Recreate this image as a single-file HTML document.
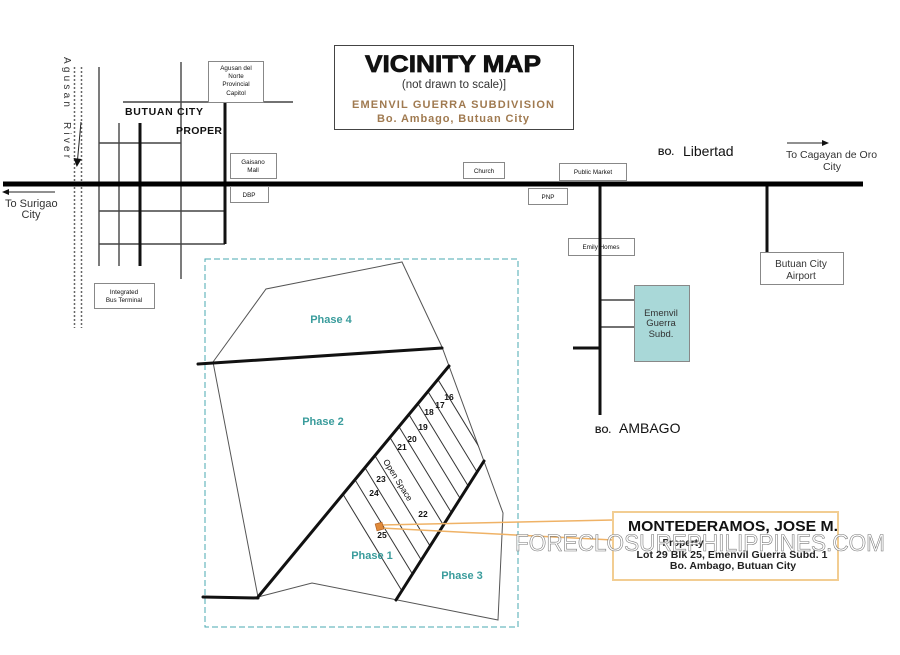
<!DOCTYPE html>
<html><head><meta charset="utf-8"><style>
html,body{margin:0;padding:0;background:#fff;width:900px;height:655px;overflow:hidden;}
svg{display:block;position:absolute;left:0;top:0;font-family:"Liberation Sans",Arial,sans-serif;}
</style></head><body>
<svg width="900" height="655" viewBox="0 0 900 655" xmlns="http://www.w3.org/2000/svg" overflow="hidden">
<defs>
<clipPath id="lots"><polygon points="258,597 449,366 484,461 396,600"/></clipPath>
</defs>
<rect width="900" height="655" fill="#fff"/>

<!-- Title box -->
<rect x="334.5" y="45.5" width="239" height="84" fill="#fff" stroke="#444" stroke-width="1"/>
<text x="453" y="72" font-size="24" font-weight="bold" text-anchor="middle" fill="#111" stroke="#111" stroke-width="0.8" textLength="176" lengthAdjust="spacingAndGlyphs">VICINITY MAP</text>
<text x="454" y="88" font-size="11.5" text-anchor="middle" fill="#333">(not drawn to scale)]</text>
<text x="453" y="108" font-size="11" font-weight="bold" text-anchor="middle" fill="#a07a50" textLength="202" lengthAdjust="spacing">EMENVIL GUERRA SUBDIVISION</text>
<text x="453" y="122" font-size="11" font-weight="bold" text-anchor="middle" fill="#a07a50" textLength="152" lengthAdjust="spacing">Bo. Ambago, Butuan City</text>

<!-- Agusan river -->
<line x1="74.5" y1="67" x2="74.5" y2="328" stroke="#666" stroke-width="1.5" stroke-dasharray="2,2"/>
<line x1="81.5" y1="67" x2="81.5" y2="328" stroke="#666" stroke-width="1.5" stroke-dasharray="2,2"/>
<text transform="translate(64,57) rotate(90)" font-size="10" fill="#333" letter-spacing="3.2">Agusan</text>
<text transform="translate(64,122) rotate(90)" font-size="10" fill="#333" letter-spacing="3.2">River</text>
<line x1="81" y1="122" x2="77.5" y2="160" stroke="#222" stroke-width="1"/>
<polygon points="73.5,158 81.5,159 76.8,167" fill="#111"/>

<!-- City grid -->
<g stroke="#444" stroke-width="1.4" fill="none">
<line x1="99" y1="67" x2="99" y2="266"/>
<line x1="119" y1="123" x2="119" y2="266"/>
<line x1="181" y1="62" x2="181" y2="279"/>
<line x1="99" y1="143" x2="181" y2="143"/>
<line x1="99" y1="211" x2="225" y2="211"/>
<line x1="99" y1="244" x2="225" y2="244"/>
<line x1="123" y1="102" x2="293" y2="102"/>
<line x1="600" y1="300" x2="634" y2="300"/>
<line x1="600" y1="327" x2="634" y2="327"/>
</g>
<g stroke="#111" stroke-width="3" fill="none">
<line x1="140" y1="123" x2="140" y2="266"/>
<line x1="225" y1="102" x2="225" y2="244"/>
<line x1="600" y1="184" x2="600" y2="415"/>
<line x1="767" y1="184" x2="767" y2="252"/>
<line x1="573" y1="348" x2="600" y2="348"/>
</g>
<!-- Main road -->
<line x1="3" y1="184" x2="863" y2="184" stroke="#000" stroke-width="5"/>

<text x="125" y="115" font-size="10.5" font-weight="bold" fill="#111" textLength="78" lengthAdjust="spacing">BUTUAN CITY</text>
<text x="176" y="134" font-size="10.5" font-weight="bold" fill="#111" textLength="46" lengthAdjust="spacing">PROPER</text>

<!-- To Surigao -->
<line x1="6" y1="192" x2="55" y2="192" stroke="#222" stroke-width="1"/>
<polygon points="2,192 9,189 9,195" fill="#111"/>
<text x="5" y="207" font-size="11" fill="#333">To Surigao</text>
<text x="31" y="218" font-size="11" fill="#333" text-anchor="middle">City</text>

<!-- To Cagayan -->
<line x1="787" y1="143" x2="823" y2="143" stroke="#222" stroke-width="1"/>
<polygon points="829,143 822,140 822,146" fill="#111"/>
<text x="786" y="158" font-size="10.5" fill="#333">To  Cagayan de Oro</text>
<text x="832" y="170" font-size="10.5" fill="#333" text-anchor="middle">City</text>

<text x="658" y="155" font-size="9" font-weight="bold" fill="#222">BO.</text>
<text x="683" y="156" font-size="14" fill="#111">Libertad</text>
<text x="595" y="433" font-size="9" font-weight="bold" fill="#222">BO.</text>
<text x="619" y="433" font-size="14" fill="#111">AMBAGO</text>

<!-- small boxes -->
<g fill="#fff" stroke="#888" stroke-width="1">
<rect x="208.5" y="61.5" width="55" height="41"/>
<rect x="230.5" y="153.5" width="46" height="25"/>
<rect x="230.5" y="186.5" width="38" height="16"/>
<rect x="94.5" y="283.5" width="60" height="25"/>
<rect x="463.5" y="162.5" width="41" height="16"/>
<rect x="559.5" y="163.5" width="67" height="17"/>
<rect x="528.5" y="188.5" width="39" height="16"/>
<rect x="568.5" y="238.5" width="66" height="17"/>
<rect x="760.5" y="252.5" width="83" height="32"/>
</g>
<rect x="634.5" y="285.5" width="55" height="76" fill="#a9d8d8" stroke="#888" stroke-width="1"/>
<line x1="600" y1="238" x2="600" y2="256" stroke="#111" stroke-width="3"/>

<g font-size="6.3" fill="#111" text-anchor="middle">
<text x="236" y="70">Agusan del</text>
<text x="236" y="78">Norte</text>
<text x="236" y="86">Provincial</text>
<text x="236" y="95">Capitol</text>
<text x="253" y="164">Gaisano</text>
<text x="253" y="172">Mall</text>
<text x="249" y="197">DBP</text>
<text x="124" y="294">Integrated</text>
<text x="124" y="302">Bus Terminal</text>
<text x="484" y="173">Church</text>
<text x="593" y="174">Public Market</text>
<text x="548" y="199">PNP</text>
<text x="601" y="249">Emily Homes</text>
</g>
<g font-size="10" fill="#333" text-anchor="middle">
<text x="801" y="267">Butuan City</text>
<text x="801" y="279">Airport</text>
</g>
<g font-size="9.5" fill="#333" text-anchor="middle">
<text x="661" y="316">Emenvil</text>
<text x="661" y="326">Guerra</text>
<text x="661" y="337">Subd.</text>
</g>

<!-- Site dashed box -->
<rect x="205" y="259" width="313" height="368" fill="none" stroke="#4aa8b0" stroke-width="1" stroke-dasharray="6,3"/>

<!-- Site plan -->
<polyline points="213,362 266,289 402,262 442,347 503,513 498,620 312,583 258,597 213,362" fill="none" stroke="#555" stroke-width="1"/>
<g clip-path="url(#lots)" stroke="#333" stroke-width="1">
<line x1="343" y1="494.3" x2="422.3" y2="624.3"/>
<line x1="355" y1="479.8" x2="434.3" y2="609.8"/>
<line x1="365" y1="467.7" x2="444.3" y2="597.7"/>
<line x1="375" y1="455.7" x2="454.3" y2="585.7"/>
<line x1="390" y1="437.5" x2="469.3" y2="567.5"/>
<line x1="399" y1="426.7" x2="478.3" y2="556.7"/>
<line x1="409" y1="414.6" x2="488.3" y2="544.6"/>
<line x1="418" y1="403.7" x2="497.3" y2="533.7"/>
<line x1="428" y1="391.6" x2="507.3" y2="521.6"/>
<line x1="438" y1="379.6" x2="517.3" y2="509.6"/>
</g>
<g stroke="#111" stroke-width="3" fill="none" stroke-linecap="round">
<line x1="198" y1="364" x2="442" y2="348"/>
<line x1="203" y1="597" x2="258" y2="598"/>
<line x1="258" y1="597" x2="449" y2="366"/>
<line x1="396" y1="600" x2="484" y2="461"/>
</g>

<g font-size="11" font-weight="bold" fill="#3a9c9c" text-anchor="middle">
<text x="331" y="323">Phase 4</text>
<text x="323" y="425">Phase 2</text>
<text x="372" y="559">Phase 1</text>
<text x="462" y="579">Phase 3</text>
</g>
<g font-size="8.5" font-weight="bold" fill="#111" text-anchor="middle">
<text x="449" y="400">16</text>
<text x="440" y="408">17</text>
<text x="429" y="415">18</text>
<text x="423" y="430">19</text>
<text x="412" y="442">20</text>
<text x="402" y="450">21</text>
<text x="381" y="482">23</text>
<text x="374" y="496">24</text>
<text x="423" y="517">22</text>
<text x="382" y="538">25</text>
</g>
<text transform="translate(398,480) rotate(58)" font-size="8.5" fill="#111" text-anchor="middle" dy="3">Open Space</text>

<!-- callout -->
<line x1="381" y1="525" x2="613" y2="520" stroke="#efb266" stroke-width="1.5"/>
<line x1="381" y1="528" x2="613" y2="540" stroke="#efb266" stroke-width="1.5"/>
<rect x="376" y="523" width="7" height="7" fill="#e08a3a" stroke="#b8682a" stroke-width="0.8" transform="rotate(-15 379.5 526.5)"/>
<rect x="613" y="512" width="225" height="68" fill="#fff" stroke="#f2cd92" stroke-width="2"/>
<text x="733" y="531" font-size="15" font-weight="bold" fill="#111" text-anchor="middle" textLength="210" lengthAdjust="spacingAndGlyphs">MONTEDERAMOS, JOSE M.</text>
<text x="683" y="546" font-size="10" font-weight="bold" fill="#222" text-anchor="middle">Property</text>
<text x="732" y="558" font-size="10.5" font-weight="bold" fill="#222" text-anchor="middle" textLength="191" lengthAdjust="spacing">Lot 29  Blk 25,  Emenvil Guerra Subd. 1</text>
<text x="733" y="569" font-size="10.5" font-weight="bold" fill="#222" text-anchor="middle">Bo. Ambago, Butuan City</text>

<!-- watermark -->
<text x="515" y="551" font-size="24" fill="#fff" fill-opacity="0.85" stroke="#7a7a7a" stroke-width="0.6" textLength="370" lengthAdjust="spacingAndGlyphs">FORECLOSUREPHILIPPINES.COM</text>
</svg>
</body></html>
